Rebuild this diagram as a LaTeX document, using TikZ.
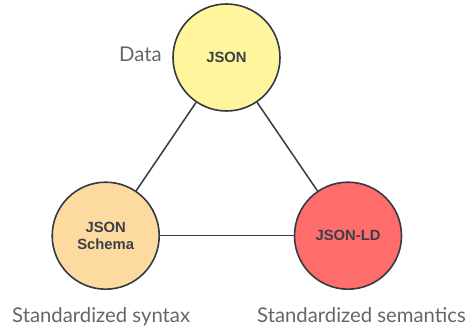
\documentclass[tikz,border=0pt]{standalone}
\usepackage{fontspec}
\setmainfont{Lato}
\newfontfamily\boldlab{Liberation Sans}
\definecolor{linec}{HTML}{343A44}
\definecolor{txtc}{HTML}{3A3F4A}
\definecolor{graytxt}{HTML}{666666}
\definecolor{yel}{HTML}{FEF59C}
\definecolor{peach}{HTML}{FDDBA0}
\definecolor{redc}{HTML}{FE6C6B}
\begin{document}
\begin{tikzpicture}[x=1pt,y=1pt,
  circ/.style={circle,draw=linec,line width=1.6pt,minimum size=107pt,inner sep=0pt,
     font=\boldlab\bfseries\fontsize{14.8}{17.5}\selectfont,text=txtc,align=center},
  conn/.style={draw=linec,line width=1.5pt},
  outlab/.style={font=\fontsize{20.3}{24}\selectfont,text=graytxt,inner sep=0pt}]
\useasboundingbox (0,0) rectangle (470,328);
\node[circ,fill=yel] (json) at (226.5,270.5) {JSON};
\node[circ,fill=peach] (schema) at (105.7,92.3) {JSON\\Schema};
\node[circ,fill=redc] (ld) at (348,92.3) {JSON-LD};
\draw[conn] (json) -- (schema);
\draw[conn] (json) -- (ld);
\draw[conn] (schema) -- (ld);
\node[outlab,anchor=base west] (data) at (119,266) {Data};
\node[outlab,anchor=base west] (syn) at (12,5.5) {Standardized syntax};
\node[outlab,anchor=base west] (sem) at (257,5.5) {Standardized semantics};
\end{tikzpicture}
\end{document}
